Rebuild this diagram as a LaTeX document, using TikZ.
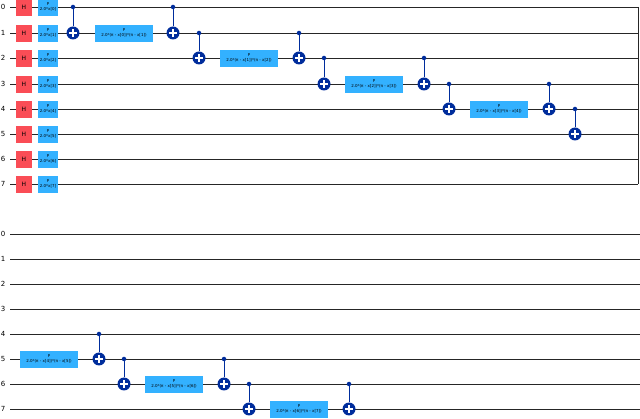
\documentclass[tikz,border=0pt]{standalone}
\usepackage{fontspec}
\setmainfont{DejaVu Sans}
\definecolor{hred}{HTML}{FA4D56}
\definecolor{pblue}{HTML}{33B1FF}
\definecolor{cxblue}{HTML}{002D9C}
\begin{document}
\begin{tikzpicture}[x=1pt,y=-1pt,
  wire/.style={line width=0.8pt,black!85},
  hgate/.style={fill=hred,draw=hred,minimum width=15pt,minimum height=16pt,inner sep=0pt,font=\fontsize{6}{6}\selectfont},
  pgate/.style={fill=pblue,draw=pblue,minimum height=16pt,inner sep=0pt,align=center,font=\fontsize{4}{4.5}\selectfont},
  ctrl/.style={circle,fill=cxblue,inner sep=0pt,minimum size=4.5pt},
  targ/.style={circle,fill=cxblue,inner sep=0pt,minimum size=13pt,path picture={\draw[white,line width=1.2pt]([xshift=-4pt]path picture bounding box.center)--([xshift=4pt]path picture bounding box.center) ([yshift=-4pt]path picture bounding box.center)--([yshift=4pt]path picture bounding box.center);}},
  cline/.style={cxblue,line width=0.9pt},
  lab/.style={font=\fontsize{7}{7}\selectfont,inner sep=0pt}]
\useasboundingbox[fill=white] (0,0) rectangle (640,419);
\foreach \i/\y in {0/7,1/33,2/58,3/84,4/109,5/134,6/159,7/184}{
  \node[lab] (tl\i) at (3,\y) {\i};
  \coordinate (ta\i) at (10,\y); \coordinate (tb\i) at (638,\y);
  \draw[wire] (ta\i) -- (tb\i);
}
\draw[wire] (tb0) -- (tb7);
\foreach \i/\y in {0/234,1/259,2/284,3/309,4/334,5/359,6/384,7/409}{
  \node[lab] (bl\i) at (3,\y) {\i};
  \coordinate (ba\i) at (10,\y); \coordinate (bb\i) at (640,\y);
  \draw[wire] (ba\i) -- (bb\i);
}
\foreach \i/\y/\k in {0/7/0,1/33/1,2/58/2,3/84/3,4/109/4,5/134/5,6/159/6,7/184/7}{
  \node[hgate] (h\i) at (24,\y) {H};
  \node[pgate,minimum width=19pt] (p\i) at (48,\y) {P\\[1pt]2.0*x[\k]};
}
\newcommand{\mycx}[4]{%
  \node[ctrl] (#1c) at (#2,#3) {};
  \node[targ] (#1t) at (#2,#4) {};
  \draw[cline] (#1c) -- (#1t);
}
\newcommand{\mypp}[5]{%
  \node[pgate,minimum width=57pt] (#1) at (#2,#3) {P\\[1pt]2.0*(π - x[#4])*(π - x[#5])};
}
\mycx{c1}{73}{7}{33}
\mypp{q1}{124}{33}{0}{1}
\mycx{c2}{173}{7}{33}
\mycx{c3}{199}{33}{58}
\mypp{q2}{249}{58}{1}{2}
\mycx{c4}{299}{33}{58}
\mycx{c5}{324}{58}{84}
\mypp{q3}{374}{84}{2}{3}
\mycx{c6}{424}{58}{84}
\mycx{c7}{449}{84}{109}
\mypp{q4}{499}{109}{3}{4}
\mycx{c8}{549}{84}{109}
\mycx{c9}{575}{109}{134}
\mypp{q5}{49}{359}{4}{5}
\mycx{d1}{99}{334}{359}
\mycx{d2}{124}{359}{384}
\mypp{q6}{174}{384}{5}{6}
\mycx{d3}{224}{359}{384}
\mycx{d4}{249}{384}{409}
\mypp{q7}{299}{409}{6}{7}
\mycx{d5}{349}{384}{409}
\end{tikzpicture}
\end{document}
